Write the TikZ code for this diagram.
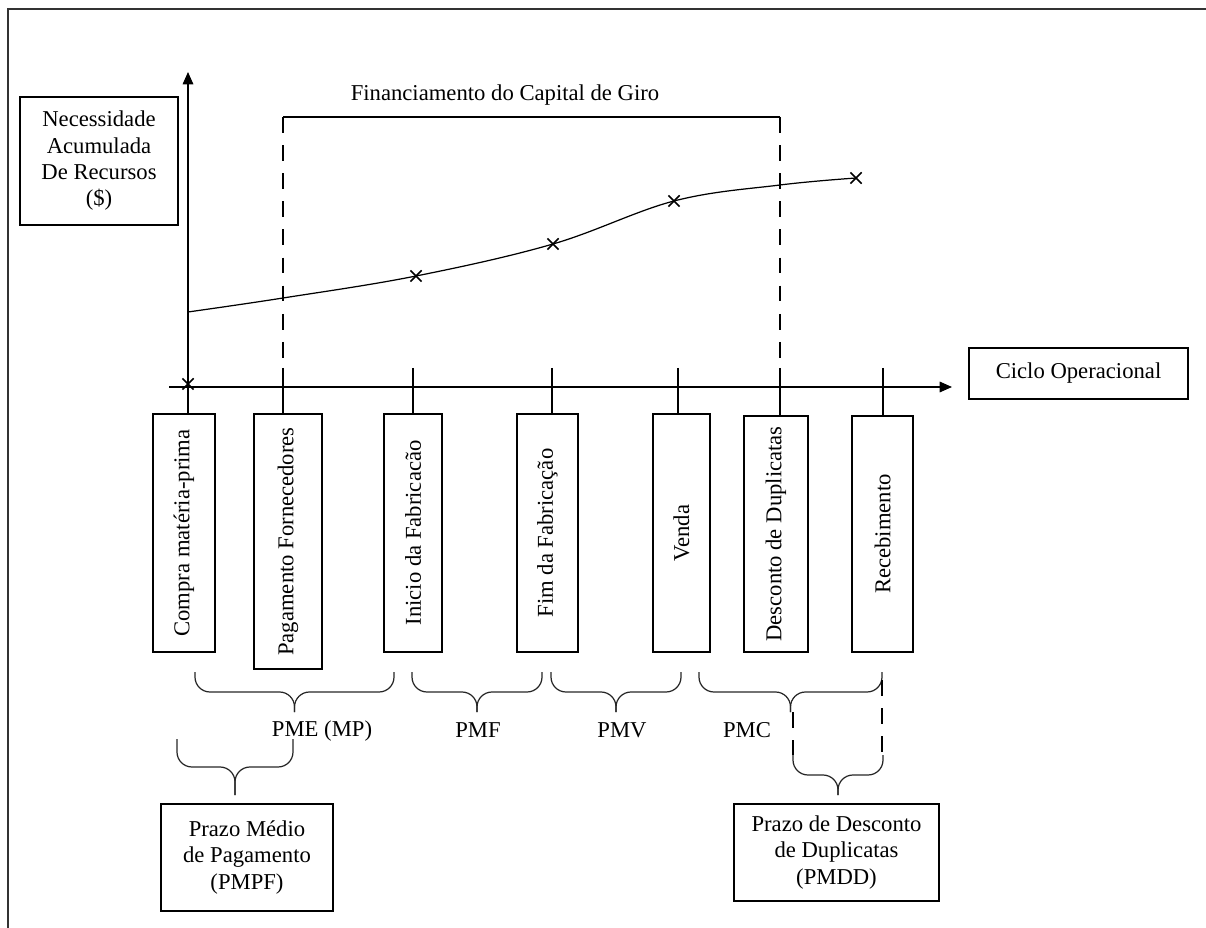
\documentclass[tikz,border=0pt]{standalone}
\usepackage{fontspec}
\setmainfont{Liberation Serif}
\usetikzlibrary{positioning,shapes,shapes.misc,arrows.meta}

% chave: x inicial, x final, y do topo, altura
\newcommand{\chave}[4]{%
  \draw[brace line] (#1,#3) -- (#1,{#3+#4/2}) -- ({(#1+#2)/2},{#3+#4/2}) -- ({(#1+#2)/2},{#3+#4});
  \draw[brace line] ({(#1+#2)/2},{#3+#4}) -- ({(#1+#2)/2},{#3+#4/2}) -- (#2,{#3+#4/2}) -- (#2,#3);
}

\begin{document}
\begin{tikzpicture}[%
        x=0.02cm, y=-0.02cm,
        line width=0.8pt,
        font=\fontsize{12.9}{15}\selectfont,
        >={Triangle[length=7pt,width=6pt]},
        box/.style={%
          rectangle,
          draw,
          align=center,
          inner sep=0pt
        },
        evbox/.style={%
          box,
          minimum height=4.76cm
        },
        xmark/.style={cross out,draw,minimum size=5.5pt,inner sep=0pt,line width=0.9pt},
        dash line/.style={dash pattern=on 9pt off 7pt},
        brace line/.style={rounded corners=0.3cm,line width=0.7pt,black!85}
      ]
      \useasboundingbox (0,0) rectangle (1206,928);
      \draw[black!80,line width=0.9pt] (8,928) -- (8,9) -- (1206,9);

      % caixas
      \node[box,minimum width=3.16cm,minimum height=2.56cm] (necess) at (99,161)
        {Necessidade\\Acumulada\\De Recursos\\(\$)};
      \node[box,minimum width=4.38cm,minimum height=1.02cm] (ciclo) at (1078.5,373.5)
        {Ciclo Operacional};
      \node[evbox,minimum width=1.24cm] (compra) at (184,533) {\rotatebox{90}{Compra matéria-prima}};
      \node[evbox,minimum width=1.36cm,minimum height=5.1cm] (pagto) at (288,541.5) {\rotatebox{90}{Pagamento Fornecedores}};
      \node[evbox,minimum width=1.16cm] (inicio) at (413,533) {\rotatebox{90}{Inicio da Fabricacão}};
      \node[evbox,minimum width=1.22cm] (fim) at (547.5,533) {\rotatebox{90}{Fim da Fabricação}};
      \node[evbox,minimum width=1.14cm] (venda) at (681.5,533) {\rotatebox{90}{Venda}};
      \node[evbox,minimum width=1.28cm,minimum height=4.72cm] (desc) at (776,534) {\rotatebox{90}{Desconto de Duplicatas}};
      \node[evbox,minimum width=1.22cm,minimum height=4.72cm] (receb) at (882.5,534) {\rotatebox{90}{Recebimento}};
      \node[box,minimum width=3.44cm,minimum height=2.14cm] (pmpf) at (247,857.5)
        {Prazo Médio\\de Pagamento\\(PMPF)};
      \node[box,minimum width=4.1cm,minimum height=1.94cm] (pmdd) at (836.5,852.5)
        {Prazo de Desconto\\de Duplicatas\\(PMDD)};

      % eixos
      \coordinate (ytop) at (188,72);
      \coordinate (xini) at (169,387);
      \coordinate (xfim) at (952,387);
      \draw[->] (188,387 |- compra.north) -- (ytop);
      \draw[->] (xini) -- (xfim);
      \foreach \n/\x in {pagto/283,inicio/413,fim/552,venda/678,desc/780,receb/883}
        \draw (\x,368) -- (\x,368 |- \n.north);

      % financiamento
      \node (fin) at (505,95) {Financiamento do Capital de Giro};
      \coordinate (fa) at (283,117);
      \coordinate (fb) at (780,117);
      \draw (fa) -- (fb);
      \draw[dash line] (fa) -- (283,368);
      \draw[dash line] (fb) -- (780,368);

      % curva
      \coordinate (p0) at (188,384);
      \coordinate (p1) at (416,276);
      \coordinate (p2) at (553,244);
      \coordinate (p3) at (674,201);
      \coordinate (p4) at (856,178);
      \draw[line width=0.7pt] plot[smooth,tension=0.6] coordinates
        {(188,312) (283,298) (p1) (p2) (p3) (780,185) (p4)};
      \foreach \p in {p0,p1,p2,p3,p4}
        \node[xmark] at (\p) {};

      % chaves
      \chave{195}{394}{672}{40}
      \chave{412}{542}{672}{40}
      \chave{551}{681}{672}{40}
      \chave{699}{882}{672}{40}
      \chave{793}{883}{755}{40}
      \chave{177}{293}{739}{56}
      \draw[dash line] (793,712) -- (793,755);
      \draw[dash line] (882,680) -- (882,755);
      \node (pme) at (322,731) {PME (MP)};
      \node (pmf) at (478,730) {PMF};
      \node (pmv) at (622,730) {PMV};
      \node (pmc) at (747,730) {PMC};
  \end{tikzpicture}
\end{document}
